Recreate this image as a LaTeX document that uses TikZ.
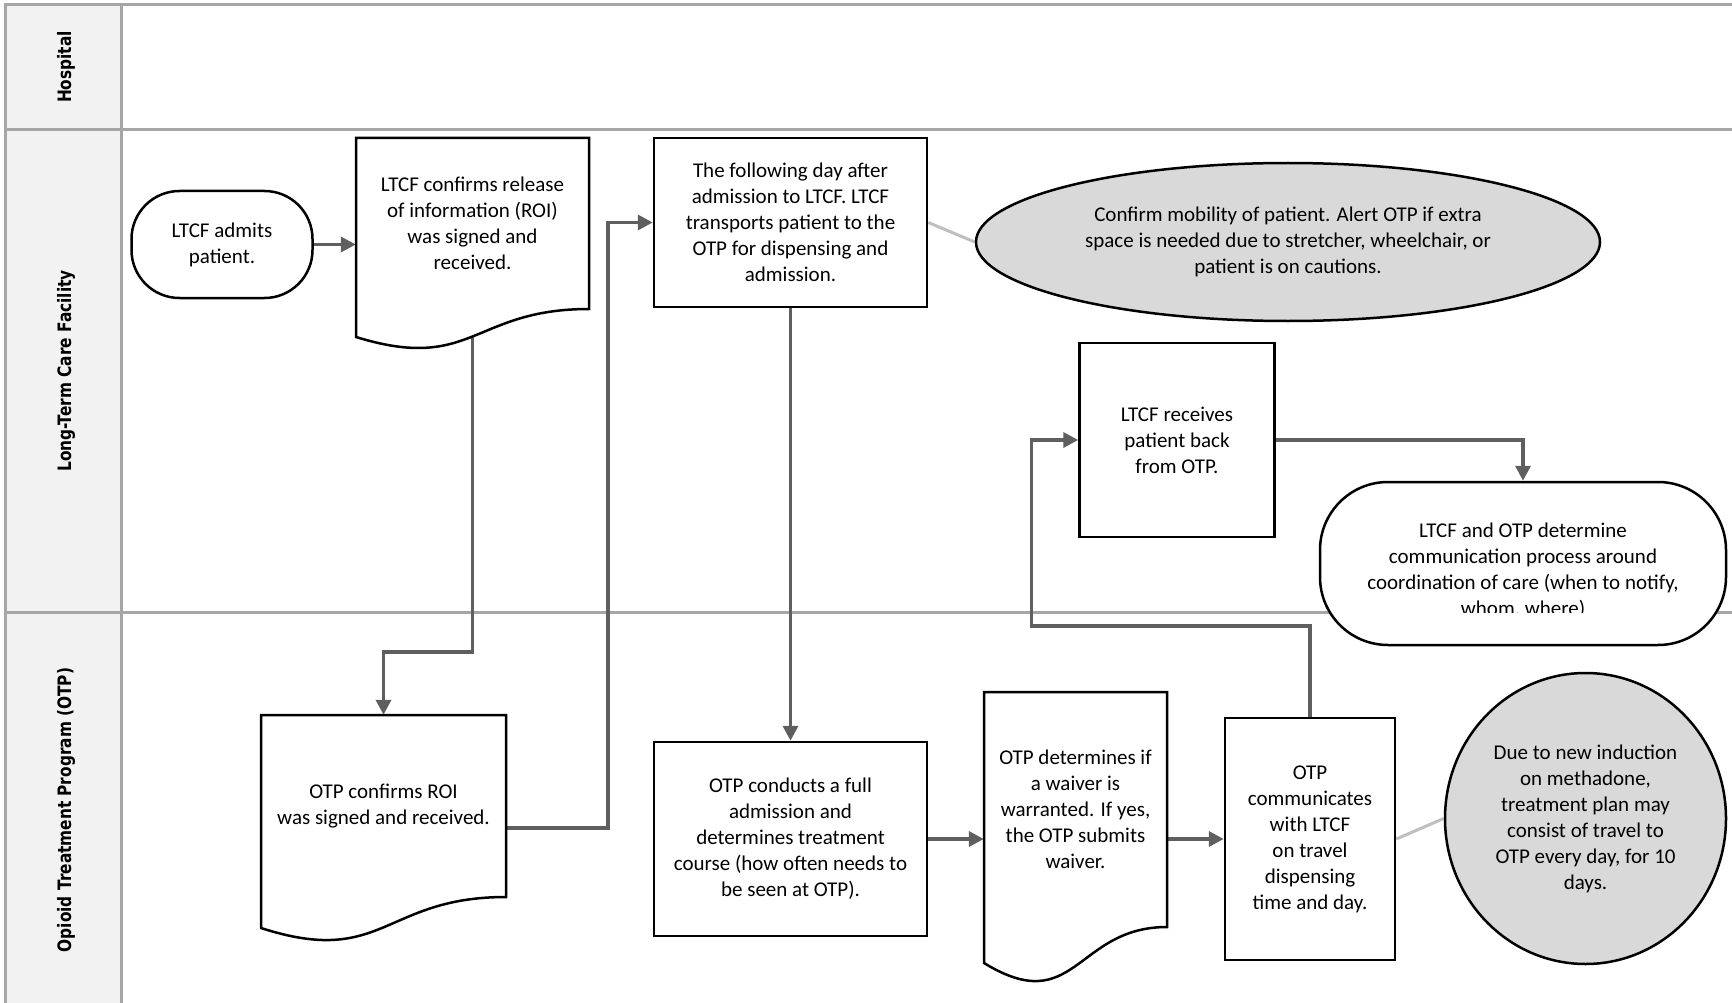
\documentclass[tikz,border=0pt]{standalone}
\usepackage{fontspec}
\setmainfont{Carlito}
\newfontfamily\labfont{DejaVu Sans}
\usetikzlibrary{arrows.meta,shapes.geometric,calc}
\pgfdeclarelayer{bg}
\pgfsetlayers{bg,main}
\definecolor{lanegray}{HTML}{A6A6A6}
\definecolor{labfill}{HTML}{F2F2F2}
\definecolor{conn}{HTML}{5F5F5F}
\definecolor{callfill}{HTML}{D9D9D9}
\definecolor{callline}{HTML}{BFBFBF}
\newcommand{\lanetext}[1]{\scalebox{0.83}[1]{#1}}
\tikzset{
  box/.style={draw=black, line width=2.5pt, fill=white, inner sep=0pt, align=center, rectangle},
  txt/.style={inner sep=0pt, align=center},
  docline/.style={draw=black, line width=2.5pt, fill=white, line join=miter},
  flow/.style={draw=conn, line width=3.5pt, -{Triangle[length=15pt,width=15pt]}},
  callout/.style={draw=callline, line width=3pt},
  note/.style={ellipse, draw=black, line width=2.5pt, fill=callfill, inner sep=0pt, align=center},
  lane/.style={draw=lanegray, line width=3pt},
  lanelabel/.style={rotate=90, inner sep=0pt, font=\labfont\bfseries\fontsize{18.5}{22}\selectfont}
}
\begin{document}
\begin{tikzpicture}[x=1pt, y=-1pt, font=\fontsize{21}{26}\selectfont]
\useasboundingbox (0,0) rectangle (1732,1003);

% swimlanes
\begin{pgfonlayer}{bg}
\fill[labfill] (5.5,5) rectangle (121.5,1003);
\draw[lane] (1732,5) -- (5.5,5) -- (5.5,1003);
\draw[lane] (121.5,5) -- (121.5,1003);
\draw[lane] (5.5,130) -- (1732,130);
\draw[lane] (5.5,612) -- (1732,612);
\end{pgfonlayer}

\node[lanelabel] (labH) at (66,67) {\lanetext{Hospital}};
\node[lanelabel] (labL) at (66,371) {\lanetext{Long-Term Care Facility}};
\node[lanelabel] (labO) at (66,810) {\lanetext{Opioid Treatment Program (OTP)}};

% LTCF lane
\node[box, rounded corners=48pt, minimum width=181pt, minimum height=107pt] (n1) at (222,244.5) {LTCF admits\\patient.};

\path[docline] (356,138) -- (589,138) -- (589,309) .. controls (472.5,309) and (472.5,373) .. (356,337) -- cycle;
\node[txt, minimum width=233pt, minimum height=171pt] (doc1) at (472.5,223.5) {LTCF confirms release\\of information (ROI)\\was signed and\\received.};

\node[box, minimum width=273pt, minimum height=169pt] (rect3) at (790.5,222.5) {The following day after\\admission to LTCF. LTCF\\transports patient to the\\OTP for dispensing and\\admission.};

\node[note, minimum width=624pt, minimum height=158pt] (ell4) at (1288,242) {Confirm mobility of patient. Alert OTP if extra\\space is needed due to stretcher, wheelchair, or\\patient is on cautions.};

\node[box, minimum width=195pt, minimum height=194pt] (rect5) at (1177,440) {LTCF receives\\patient back\\from OTP.};

\node[box, rounded corners=68pt, minimum width=406pt, minimum height=163pt] (stad6) at (1523,563.5) {};
\begin{scope}
\clip (1320,482) rectangle (1726,612.5);
\node[txt] (stad6t) at (1523,570.5) {LTCF and OTP determine\\communication process around\\coordination of care (when to notify,\\whom, where)};
\end{scope}

% OTP lane
\path[docline] (261,715) -- (506,715) -- (506,897) .. controls (383.5,897) and (383.5,967.6) .. (261,928) -- cycle;
\node[txt, minimum width=245pt, minimum height=182pt] (doc7) at (383.5,806) {OTP confirms ROI\\was signed and received.};

\node[box, minimum width=273pt, minimum height=194pt] (rect8) at (790.5,839) {OTP conducts a full\\admission and\\determines treatment\\course (how often needs to\\be seen at OTP).};

\path[docline] (984,692) -- (1167,692) -- (1167,927) .. controls (1075.5,927) and (1075.5,1019) .. (984,963) -- cycle;
\node[txt, minimum width=183pt, minimum height=235pt] (doc9) at (1075.5,809.5) {OTP determines if\\a waiver is\\warranted. If yes,\\the OTP submits\\waiver.};

\node[box, minimum width=170pt, minimum height=242pt] (rect10) at (1310,839) {OTP\\communicates\\with LTCF\\on travel\\dispensing\\time and day.};

\node[note, minimum width=281pt, minimum height=291pt] (ell11) at (1585.5,818.5) {Due to new induction\\on methadone,\\treatment plan may\\consist of travel to\\OTP every day, for 10\\days.};

% connectors
\begin{pgfonlayer}{bg}
\draw[flow] (n1.east) -- (n1.east -| doc1.west);
\draw[flow] (doc1.south) -- ++(0,343) -| (doc7.north);
\draw[flow] ([yshift=-22pt]doc7.east) -- ++(102,0) |- (rect3.west);
\draw[flow] (rect3.south) -- (rect8.north);
\draw[flow] (rect8.east) -- (rect8.east -| doc9.west);
\draw[flow] (doc9.east |- rect10.west) -- (rect10.west);
\draw[flow] (rect10.north) -- ++(0,-91) -| ([xshift=-47pt]rect5.west) -- (rect5.west);
\draw[flow] (rect5.east) -| (stad6.north);
\draw[callout] (rect3.east) -- (ell4.west);
\draw[callout] (rect10.east) -- (ell11.west);
\end{pgfonlayer}
\end{tikzpicture}
\end{document}
